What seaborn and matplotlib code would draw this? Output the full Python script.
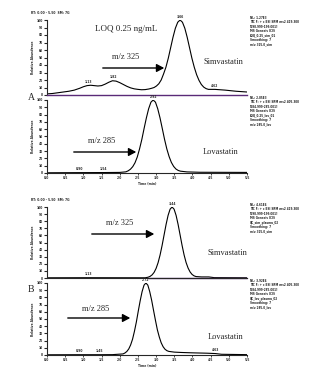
import numpy as np
import pandas as pd
import matplotlib
matplotlib.use("Agg")
import matplotlib.pyplot as plt
import seaborn as sns

# ---------------- data ----------------
# Panel A top: Simvastatin m/z 325 (LOQ 0.25 ng/mL)
simA_t = [0.00, 0.15, 0.30, 0.45, 0.60, 0.75, 0.90, 1.00, 1.10, 1.20, 1.30, 1.40, 1.50, 1.60,
          1.70, 1.80, 1.90, 2.00, 2.10, 2.20, 2.30, 2.40, 2.50, 2.60, 2.70, 2.80, 2.88, 2.945,
          3.01, 3.075, 3.14, 3.205, 3.27, 3.335, 3.40, 3.465, 3.53, 3.595, 3.66, 3.725, 3.79,
          3.855, 3.92, 3.985, 4.05, 4.115, 4.18, 4.245, 4.31, 4.375, 4.44, 4.62, 4.90, 5.20, 5.50]
simA_i = [1.5, 2, 3, 4, 5, 6.5, 9, 11, 12.5, 13, 12.5, 12, 12.5, 14.5,
          17, 19, 18.5, 16.5, 14, 11.5, 9.5, 8.2, 7.5, 7, 7.2, 8, 9, 10,
          12, 15, 20, 28, 37, 49, 63, 77, 89, 97, 100, 97, 89,
          77, 63, 49, 37, 27, 19.5, 14, 10.5, 8.5, 7.5, 7.5, 6.5, 5, 4]
# Panel A bottom: Lovastatin m/z 285
lovA_t = [0.00, 0.90, 1.54, 2.00, 2.17, 2.233, 2.295, 2.358, 2.42, 2.483, 2.545, 2.608, 2.67,
          2.733, 2.795, 2.858, 2.92, 2.983, 3.045, 3.108, 3.17, 3.233, 3.295, 3.358, 3.42,
          3.483, 3.545, 3.608, 3.67, 3.85, 4.20, 5.50]
lovA_i = [0.3, 0.5, 0.6, 0.8, 1.6, 3, 5.2, 8.7, 14, 22, 33, 46, 61,
          75.5, 88, 97, 100, 97, 88, 75.5, 61, 46, 33, 22.5, 14.5,
          9, 5.5, 3.5, 2.5, 1.5, 1.0, 0.8]
# Panel B top: Simvastatin m/z 325
simB_t = [0.00, 1.13, 2.70, 2.78, 2.835, 2.89, 2.945, 3.00, 3.055, 3.11, 3.165, 3.22, 3.275,
          3.33, 3.385, 3.44, 3.495, 3.55, 3.605, 3.66, 3.715, 3.77, 3.825, 3.88, 3.935, 3.99,
          4.045, 4.10, 4.25, 4.45, 4.60, 5.50]
simB_i = [0.3, 0.4, 0.3, 1.1, 2.3, 4.4, 7.9, 13.5, 21.6, 32.5, 45.8, 60.7, 75.5,
          88.2, 96.9, 100, 96.9, 88.2, 75.5, 60.7, 45.8, 32.5, 21.8, 14, 8.5, 5,
          3, 2, 1.5, 1.5, 0.5, 0.3]
# Panel B bottom: Lovastatin m/z 285
lovB_t = [0.00, 0.90, 1.45, 1.80, 2.09, 2.143, 2.195, 2.248, 2.30, 2.353, 2.405, 2.458, 2.51,
          2.563, 2.615, 2.668, 2.72, 2.773, 2.825, 2.878, 2.93, 2.983, 3.035, 3.088, 3.14,
          3.193, 3.245, 3.298, 3.35, 3.50, 3.70, 4.00, 4.40, 4.63, 4.80, 5.50]
lovB_i = [0.3, 0.4, 0.4, 0.5, 1.5, 2.8, 4.9, 8.4, 14, 22, 33, 46, 61,
          75.5, 88, 97, 100, 97, 88, 76, 62, 48, 35, 25, 17,
          11.5, 8, 6, 5, 4, 3.5, 3, 2.5, 2, 1.0, 0.5]

peak_labels = [
    [(1.13, 13, "1.13"), (1.82, 19, "1.82"), (3.66, 100, "3.66"), (4.62, 7.5, "4.62")],
    [(0.90, 0.5, "0.90"), (1.54, 0.6, "1.54"), (2.92, 100, "2.92")],
    [(1.13, 0.4, "1.13"), (3.44, 100, "3.44")],
    [(0.90, 0.4, "0.90"), (1.45, 0.4, "1.45"), (2.72, 100, "2.72"), (4.63, 2, "4.63")],
]
x_ticks = [0.0, 0.5, 1.0, 1.5, 2.0, 2.5, 3.0, 3.5, 4.0, 4.5, 5.0, 5.5]
y_ticks = [0, 10, 20, 30, 40, 50, 60, 70, 80, 90, 100]

info_lines = [
    ["NL: 1.27E3", "TIC F: + c ESI SRM ms2 419.300", "[198.999-199.001]", "MS Genesis ICIS",
     "LOQ_0.25_sim_01", "Smoothing: 7", "m/z 325.0_sim"],
    ["NL: 2.85E3", "TIC F: + c ESI SRM ms2 405.300", "[284.999-285.001]", "MS Genesis ICIS",
     "LOQ_0.25_lov_01", "Smoothing: 7", "m/z 285.0_lov"],
    ["NL: 4.61E4", "TIC F: + c ESI SRM ms2 419.300", "[198.999-199.001]", "MS Genesis ICIS",
     "QC_sim_plasma_02", "Smoothing: 7", "m/z 325.0_sim"],
    ["NL: 3.92E4", "TIC F: + c ESI SRM ms2 405.300", "[284.999-285.001]", "MS Genesis ICIS",
     "QC_lov_plasma_02", "Smoothing: 7", "m/z 285.0_lov"],
]

# ---------------- figure ----------------
sns.set_style("ticks")
plt.rcParams["font.family"] = ["DejaVu Sans"]
W, H = 330, 377
fig = plt.figure(figsize=(W / 100, H / 100), dpi=100)
fig.patch.set_facecolor("white")

def frac(x0, top, x1, bottom):
    return [x0 / W, 1 - bottom / H, (x1 - x0) / W, (bottom - top) / H]

boxes = [frac(47, 20, 247, 95), frac(47, 100, 247, 173),
         frac(47, 207, 247, 278), frac(47, 283, 247, 355)]
series = [(simA_t, simA_i), (lovA_t, lovA_i), (simB_t, simB_i), (lovB_t, lovB_i)]
serif = "Liberation Serif"
purple = "#5a2a78"
tiny = dict(fontsize=2.2, fontweight="bold")

axes = []
for k, (box, (t, inten)) in enumerate(zip(boxes, series)):
    ax = fig.add_axes(box)
    df = pd.DataFrame({"t": t, "i": inten})
    sns.lineplot(data=df, x="t", y="i", ax=ax, color="black", linewidth=0.8)
    ax.set_xlim(0, 5.5)
    ax.set_ylim(0, 100)
    ax.set_yticks(y_ticks)
    ax.set_yticklabels([str(v) for v in y_ticks], **tiny)
    ax.tick_params(axis="y", length=2, width=0.8, pad=0.8)
    ax.set_ylabel("Relative Abundance", labelpad=1, **tiny)
    ax.set_xlabel("")
    for s in ["top", "right"]:
        ax.spines[s].set_visible(False)
    ax.spines["left"].set_linewidth(0.8)
    ax.spines["bottom"].set_linewidth(0.8)
    ax.patch.set_alpha(0)
    if k in (1, 3):
        ax.set_xticks(x_ticks)
        ax.set_xticklabels([f"{v:.1f}" for v in x_ticks], **tiny)
        ax.tick_params(axis="x", length=1.5, width=0.6, pad=1)
        ax.set_xlabel("Time (min)", labelpad=1, **tiny)
    else:
        ax.set_xticks([])
    for (xt, yt, lab) in peak_labels[k]:
        ax.text(xt, yt + 2, lab, ha="center", va="bottom", **tiny)
    # info block on the right
    bb = ax.get_position()
    y0 = bb.y1 + 8.4 / H
    for j, line in enumerate(info_lines[k]):
        fig.text(250 / W, y0 - (j + 1) * 4.4 / H, line, ha="left", va="top",
                 fontsize=2.0, fontweight="bold")
    axes.append(ax)

ax1, ax2, ax3, ax4 = axes
ax1.spines["bottom"].set_color(purple)
ax1.spines["bottom"].set_linewidth(1.0)
ax3.plot([2.78, 5.5], [0.3, 0.3], color=purple, lw=1.0, clip_on=False)

# header lines
fig.text(31 / W, 1 - 13 / H, "RT: 0.00 - 5.50  SM: 7G", va="center", **tiny)
fig.text(31 / W, 1 - 200 / H, "RT: 0.00 - 5.50  SM: 7G", va="center", **tiny)

# big annotations
def px(x, y):
    return (x / W, 1 - y / H)

fig.text(*px(95, 29), "LOQ 0.25 ng/mL", fontsize=6.5, family=serif, va="center", ha="left")
txt_kw = dict(fontsize=6.0, family=serif, va="center", ha="left")
fig.text(*px(112, 57), "m/z 325", **txt_kw)
fig.text(*px(203, 62), "Simvastatin", **txt_kw)
fig.text(*px(88, 141), "m/z 285", **txt_kw)
fig.text(*px(203, 152), "Lovastatin", **txt_kw)
fig.text(*px(106, 223), "m/z 325", **txt_kw)
fig.text(*px(208, 253), "Simvastatin", **txt_kw)
fig.text(*px(82, 309), "m/z 285", **txt_kw)
fig.text(*px(208, 337), "Lovastatin", **txt_kw)
fig.text(*px(28, 97), "A", fontsize=7, family=serif, va="center", ha="left")
fig.text(*px(28, 290), "B", fontsize=7, family=serif, va="center", ha="left")

arrows = [((100, 68), (167, 68)), ((71, 152), (139, 152)),
          ((89, 234), (157, 234)), ((65, 318), (133, 318))]
for (a, b) in arrows:
    fig.add_artist(matplotlib.patches.FancyArrowPatch(
        px(*a), px(*b), transform=fig.transFigure, arrowstyle="-|>,head_length=3,head_width=1.6",
        color="black", lw=1.0, mutation_scale=1.5))

fig.savefig("out.png", dpi=100, facecolor="white")
